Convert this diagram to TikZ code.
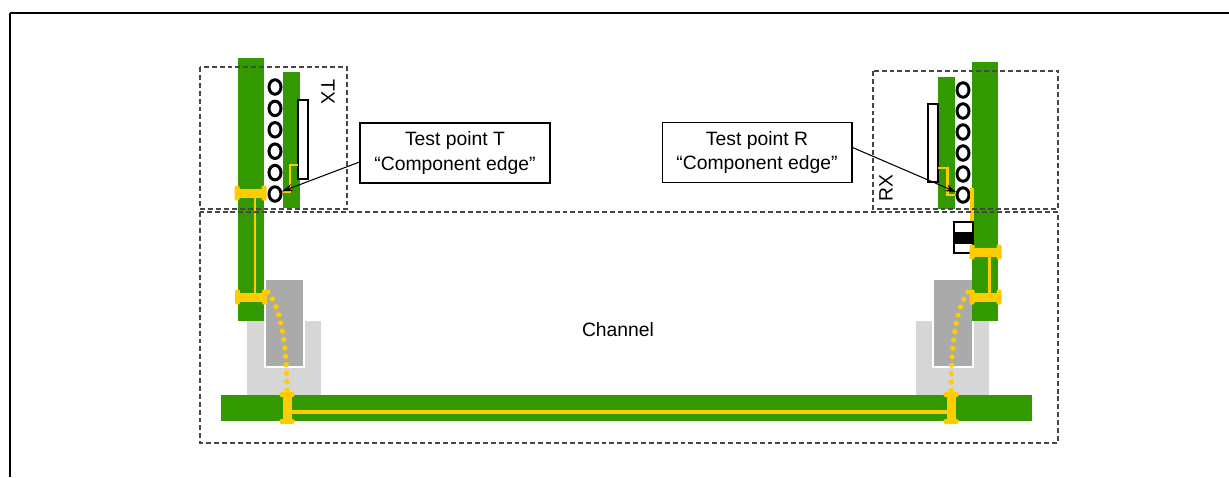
\documentclass[tikz,border=0pt]{standalone}
\usepackage{fontspec}
\setmainfont{Liberation Sans}
\usetikzlibrary{arrows.meta, calc, shapes.geometric}
\definecolor{pcbgreen}{RGB}{51,153,0}
\definecolor{padyellow}{RGB}{255,204,0}
\definecolor{darkgray1}{RGB}{170,170,170}
\definecolor{lightgray1}{RGB}{214,214,214}
\definecolor{dashgray}{RGB}{70,70,70}

\begin{document}
\begin{tikzpicture}[x=0.02cm, y=-0.02cm,
  region/.style={draw=dashgray, line width=0.6pt, dash pattern=on 2.8pt off 1.7pt},
  board/.style={fill=pcbgreen},
  ball/.style={ellipse, draw=black, fill=white, line width=1.7pt, minimum width=0.24cm, minimum height=0.29cm, inner sep=0pt},
  chip/.style={draw=black, fill=white, line width=1.4pt},
  trace/.style={draw=padyellow, line width=1.7pt},
  via/.style={draw=padyellow, line width=3pt, line cap=round, dash pattern=on 0pt off 4.8pt},
  callout/.style={draw=black, fill=white, line width=0.6pt, minimum width=3.8cm, minimum height=1.2cm, align=center, font=\fontsize{11}{14}\selectfont},
  conn/.pic={
    \fill[padyellow, rounded corners=0.8pt] (-16,-7.5) rectangle (-11,7.5)
                                            (11,-7.5) rectangle (16,7.5);
    \fill[padyellow] (-12,-4.5) rectangle (12,4.5);
  }
]
\useasboundingbox (0,0) rectangle (1229,477);

% page frame
\draw[line width=1.2pt] (10,13) -- (1229,13);
\draw[line width=0.8pt] (10,12.5) -- (10,477);

% mated connector bodies
\fill[lightgray1] (247,321) rectangle (321,395);
\filldraw[fill=darkgray1, draw=white, line width=1.2pt] (265,279) rectangle (304,367);
\fill[lightgray1] (916,321) rectangle (989,395);
\filldraw[fill=darkgray1, draw=white, line width=1.2pt] (933,279) rectangle (973,367);

% boards and packages
\fill[board] (238,58) rectangle (264,321);
\fill[board] (283,72) rectangle (300,208);
\fill[board] (972,62) rectangle (998,321);
\fill[board] (938,77) rectangle (955,209);
\fill[board] (221,395) rectangle (1032,421);

% dies
\draw[chip] (298,100) rectangle (308,179);
\draw[chip] (928,104) rectangle (938,182);

% package traces
\draw[trace] (298,165) -- (290,165) -- (290,192) -- (281,192);
\draw[trace] (938,168) -- (947,168) -- (947,195) -- (957,195);

% solder balls
\foreach \i in {1,...,6} {
  \node[ball] (ballT\i) at (275,{87+21.4*(\i-1)}) {};
  \node[ball] (ballR\i) at (963,{90+21*(\i-1)}) {};
}

% board traces
\draw[trace, line width=2.2pt] (972,188) -- (972,252);
\draw[trace] (255,193) -- (255,297);
\draw[trace] (989,252) -- (989,297);
\draw[trace, line width=2.2pt] (287,412) -- (951,412);

% AC coupling capacitor
\filldraw[fill=white, draw=black, line width=1.3pt] (954,222) rectangle (973,253);
\fill[black] (954,232) rectangle (973,244);

% connectors
\pic at (250.5,193) {conn};
\pic at (251,297) {conn};
\pic at (985.5,252) {conn};
\pic at (985.5,297) {conn};
\pic[rotate=90] at (287,408) {conn};
\pic[rotate=90] at (951,408) {conn};

% vias through the mated connectors
\draw[via] (268,292) .. controls (282,310) and (287,350) .. (287,392);
\draw[via] (968,292) .. controls (955,310) and (951,350) .. (951,392);

% regions
\draw[region] (200,67) rectangle (347,209);
\draw[region] (873,71) rectangle (1058,209);
\draw[region] (200,212) rectangle (1058,443);

\node[rotate=-90, font=\fontsize{11}{14}\selectfont] (tx) at (328,92) {TX};
\node[rotate=90, font=\fontsize{11}{14}\selectfont] (rx) at (886,188) {RX};
\node[font=\fontsize{11}{14}\selectfont] (channel) at (618,330) {Channel};

% test points
\node[callout] (boxT) at (455,153) {Test point T\\“Component edge”};
\node[callout] (boxR) at (757,152.5) {Test point R\\“Component edge”};
\draw[-{Stealth[length=6pt, width=4pt]}, line width=0.6pt] ($(boxT.west)+(0,9)$) -- (ballT6);
\draw[-{Stealth[length=6pt, width=4pt]}, line width=0.6pt] ($(boxR.east)+(0,-5)$) -- (ballR6);
\end{tikzpicture}
\end{document}
